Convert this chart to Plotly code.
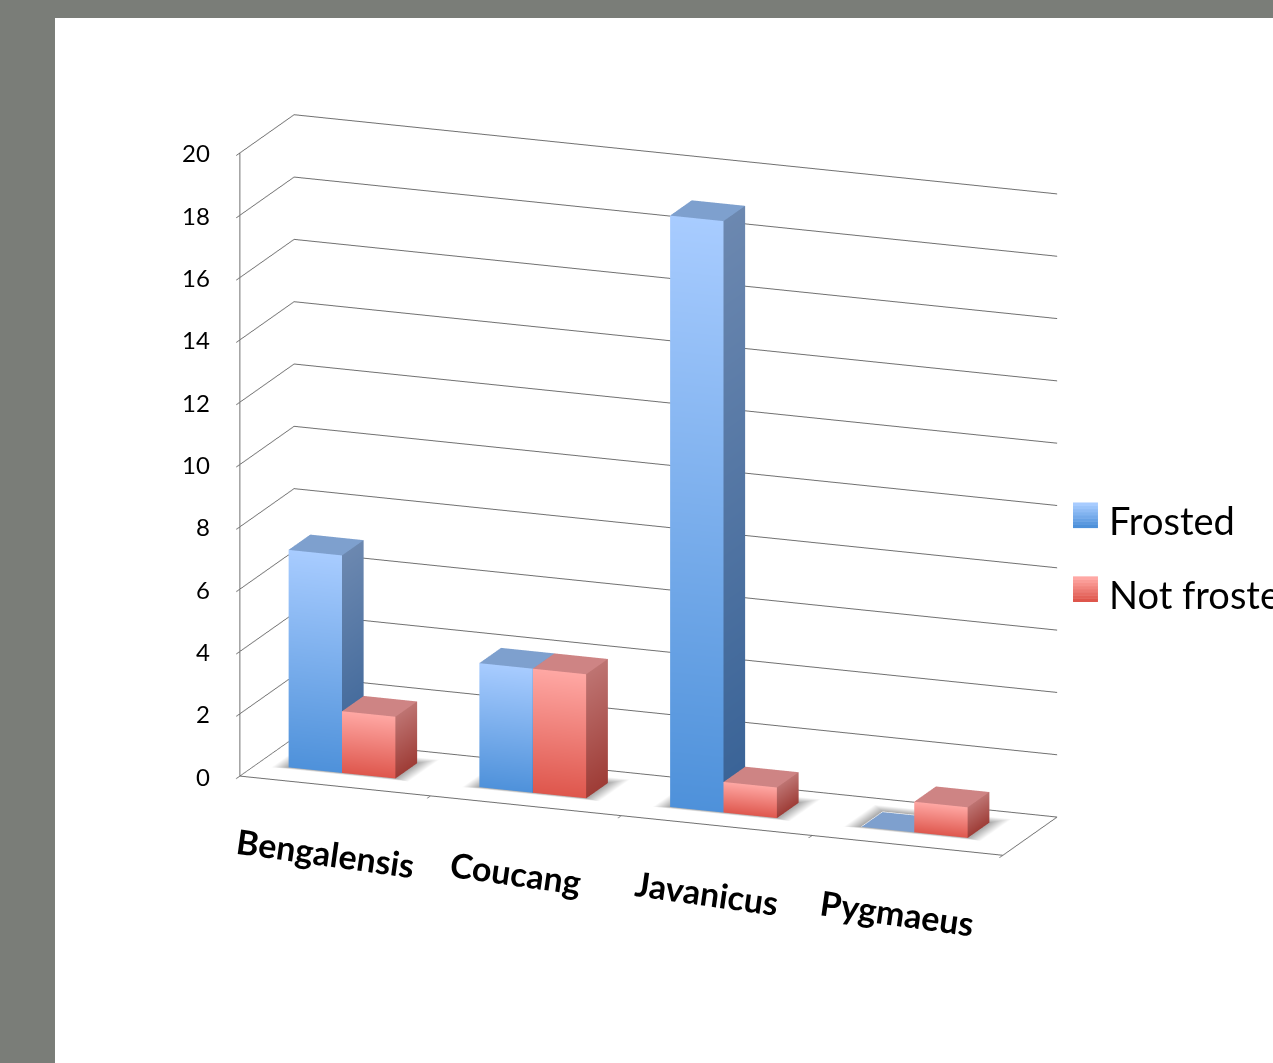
import plotly.graph_objects as go

# ---- data -------------------------------------------------------------
categories = ["Bengalensis", "Coucang", "Javanicus", "Pygmaeus"]
frosted = [7, 4, 19, 0]
not_frosted = [2, 4, 1, 1]
series_names = ["Frosted", "Not frosted"]
value_ticks = list(range(0, 21, 2))

# ---- geometry of the 3-D column chart ---------------------------------
BAR_W = 0.28            # width of one column, in category units
GROUP_SHIFT = -0.05     # small nudge of each cluster inside its category slot
DEPTH = 0.74            # depth of the floor, in category units
BAR_Y0, BAR_Y1 = 0.3 * DEPTH, 0.7 * DEPTH   # columns sit mid-depth
SHADOW_PAD_X, SHADOW_PAD_Y = 0.08, 0.10     # soft contact shadow around each cluster

# face colours: (top of gradient, bottom of gradient)
PALETTES = {
    "Frosted": {
        "front": ("rgb(168,204,255)", "rgb(78,145,218)"),
        "side": ("rgb(108,136,176)", "rgb(56,98,150)"),
        "top": ("rgb(126,160,206)", "rgb(126,160,206)"),
    },
    "Not frosted": {
        "front": ("rgb(255,168,164)", "rgb(222,86,76)"),
        "side": ("rgb(190,116,114)", "rgb(158,60,54)"),
        "top": ("rgb(206,132,132)", "rgb(206,132,132)"),
    },
}


class MeshBuilder:
    def __init__(self):
        self.x, self.y, self.z, self.c = [], [], [], []
        self.i, self.j, self.k = [], [], []

    def quad(self, pts, colours):
        base = len(self.x)
        for (px, py, pz), col in zip(pts, colours):
            self.x.append(px); self.y.append(py); self.z.append(pz); self.c.append(col)
        self.i.extend([base, base]); self.j.extend([base + 1, base + 2]); self.k.extend([base + 2, base + 3])

    def trace(self, name):
        return go.Mesh3d(
            x=self.x, y=self.y, z=self.z, i=self.i, j=self.j, k=self.k,
            vertexcolor=self.c, flatshading=True, name=name, showlegend=False,
            hoverinfo="skip",
            lighting=dict(ambient=1.0, diffuse=0.0, specular=0.0, roughness=1.0, fresnel=0.0),
        )


def column_mesh(values, offset, name):
    mb = MeshBuilder()
    pal = PALETTES[name]
    lt, dk = pal["front"]
    st, sd = pal["side"]
    tp = pal["top"][0]
    for idx, v in enumerate(values):
        x0 = idx + 0.5 + GROUP_SHIFT + offset
        x1 = x0 + BAR_W
        y0, y1 = BAR_Y0, BAR_Y1
        mb.quad([(x0, y0, 0), (x1, y0, 0), (x1, y0, v), (x0, y0, v)], [dk, dk, lt, lt])   # front
        mb.quad([(x1, y0, 0), (x1, y1, 0), (x1, y1, v), (x1, y0, v)], [sd, sd, st, st])   # right
        mb.quad([(x0, y0, v), (x1, y0, v), (x1, y1, v), (x0, y1, v)], [tp] * 4)           # top
    return mb.trace(name)


def shadow_mesh(n_groups):
    """Soft grey ring on the floor round every cluster, fading to the floor colour."""
    mb = MeshBuilder()
    core, edge = "rgb(168,168,168)", "rgb(255,255,255)"
    zf = 0.02
    for idx in range(n_groups):
        ix0 = idx + 0.5 + GROUP_SHIFT - BAR_W
        ix1 = idx + 0.5 + GROUP_SHIFT + BAR_W
        iy0, iy1 = BAR_Y0, BAR_Y1
        ox0, ox1 = ix0 - SHADOW_PAD_X, ix1 + SHADOW_PAD_X
        oy0, oy1 = iy0 - SHADOW_PAD_Y * 0.3, iy1 + SHADOW_PAD_Y
        inner = [(ix0, iy0), (ix1, iy0), (ix1, iy1), (ix0, iy1)]
        outer = [(ox0, oy0), (ox1, oy0), (ox1, oy1), (ox0, oy1)]
        for s in range(4):
            a, b = inner[s], inner[(s + 1) % 4]
            oa, ob = outer[s], outer[(s + 1) % 4]
            mb.quad([(a[0], a[1], zf), (b[0], b[1], zf), (ob[0], ob[1], zf), (oa[0], oa[1], zf)],
                    [core, core, edge, edge])
    return mb.trace("shadow")


fig = go.Figure()
fig.add_trace(shadow_mesh(len(categories)))
fig.add_trace(column_mesh(frosted, -BAR_W, series_names[0]))
fig.add_trace(column_mesh(not_frosted, 0.0, series_names[1]))

GRID = "rgb(112,112,112)"
FONT = "Lato"

# category names under the front edge of the floor, value labels beside the wall
scene_labels = [
    dict(x=i + 0.5, y=0, z=0, text=name, showarrow=False, xanchor="center", yanchor="middle",
         xshift=-10, yshift=-67, textangle=8,
         font=dict(family=FONT, size=34, color="black", weight="bold"))
    for i, name in enumerate(categories)
] + [
    dict(x=0, y=0, z=v, text=str(v), showarrow=False, xanchor="right", yanchor="middle",
         xshift=-28, yshift=0, font=dict(family=FONT, size=24, color="black"))
    for v in value_ticks
]

fig.update_layout(
    width=1273,
    height=1063,
    margin=dict(l=0, r=0, t=0, b=0),
    paper_bgcolor="rgb(122,125,120)",
    showlegend=False,
    scene=dict(
        domain=dict(x=[0.0432, 0.976], y=[0.1044, 0.9831]),
        bgcolor="white",
        aspectmode="manual",
        aspectratio=dict(x=1.75, y=0.324, z=1.386),
        camera=dict(
            eye=dict(x=0.69, y=-1.798, z=0.541),
            center=dict(x=0, y=0, z=0),
            up=dict(x=0, y=0, z=1),
            projection=dict(type="orthographic"),
        ),
        annotations=scene_labels,
        xaxis=dict(
            range=[0, 4], tickvals=[0, 1, 2, 3, 4], ticktext=[""] * 5,
            showgrid=False, zeroline=False, showline=True, linecolor=GRID, linewidth=2,
            ticks="outside", ticklen=60, tickcolor=GRID, tickwidth=2,
            title=dict(text=""), showspikes=False,
            showbackground=True, backgroundcolor="white",
        ),
        yaxis=dict(
            range=[0, DEPTH], showgrid=False, zeroline=False, showline=True,
            linecolor=GRID, linewidth=2, showticklabels=False, ticks="",
            title=dict(text=""), showspikes=False,
            showbackground=True, backgroundcolor="white",
        ),
        zaxis=dict(
            range=[0, 20], tickvals=value_ticks, showticklabels=False,
            showgrid=True, gridcolor=GRID, gridwidth=2,
            zeroline=False, showline=True, linecolor=GRID, linewidth=2,
            ticks="outside", ticklen=8, tickcolor=GRID, tickwidth=2,
            title=dict(text=""), showspikes=False,
            showbackground=True, backgroundcolor="white",
        ),
    ),
)

# white slide panel behind the chart
fig.add_shape(type="rect", xref="paper", yref="paper", x0=0.0432, x1=1.0, y0=0.0, y1=0.9831,
              fillcolor="white", line=dict(width=0), layer="below")

# legend: gradient swatch built from thin strips, then the series name
legend_rows = [
    (series_names[0], ((168, 204, 255), (78, 145, 218)), 0.5150),
    (series_names[1], ((255, 168, 164), (222, 86, 76)), 0.4455),
]
SW_X0, SW_X1, SW_H, STRIPS = 0.8429, 0.8625, 0.0236, 8
for label, (c_top, c_bot), yc in legend_rows:
    for s in range(STRIPS):
        t = s / (STRIPS - 1)
        rgb = tuple(round(c_bot[k] + (c_top[k] - c_bot[k]) * t) for k in range(3))
        y0 = yc - SW_H / 2 + SW_H * s / STRIPS
        fig.add_shape(type="rect", xref="paper", yref="paper",
                      x0=SW_X0, x1=SW_X1, y0=y0, y1=y0 + SW_H / STRIPS + 0.0005,
                      fillcolor="rgb(%d,%d,%d)" % rgb, line=dict(width=0))
    fig.add_annotation(text=label, xref="paper", yref="paper", x=0.8695, y=yc - 0.004,
                       xanchor="left", yanchor="middle", showarrow=False,
                       font=dict(family=FONT, size=38, color="black"))

fig.write_html("out.html", config=dict(displayModeBar=False))
